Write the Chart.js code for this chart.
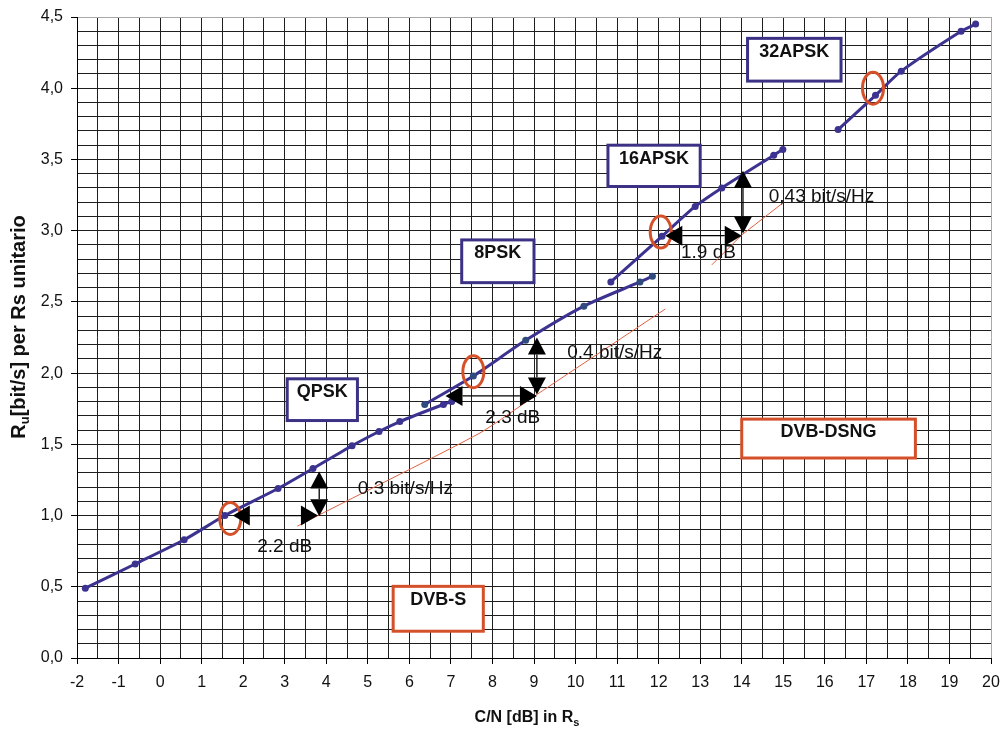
<!DOCTYPE html>
<html><head><meta charset="utf-8">
<script src="https://cdn.jsdelivr.net/npm/chart.js@4.4.1/dist/chart.umd.min.js"></script>
<style>html,body{margin:0;padding:0;background:#fff}#wrap{width:1000px;height:731px}</style>
</head><body><div id="wrap"><canvas id="c" width="1000" height="731"></canvas></div>
<script>
// ---- data ----
const qpskX = [-1.8, -0.6, 0.58, 1.56, 2.84, 3.68, 4.62, 5.27, 5.77, 6.82, 7.02];
const qpskY = [0.49, 0.66, 0.83, 1.0, 1.19, 1.33, 1.49, 1.59, 1.66, 1.78, 1.80];
const psk8X = [6.37, 7.54, 8.80, 10.2, 11.55, 11.85];
const psk8Y = [1.78, 1.98, 2.23, 2.47, 2.64, 2.68];
const apsk16X = [10.85, 12.08, 12.88, 13.52, 14.77, 14.99];
const apsk16Y = [2.64, 2.96, 3.17, 3.30, 3.53, 3.57];
const apsk32X = [16.32, 17.22, 17.84, 19.28, 19.63];
const apsk32Y = [3.71, 3.95, 4.12, 4.40, 4.45];
const refX1 = [3.3, 3.8, 7.7, 9.07, 12.16];
const refY1 = [0.925, 1.0, 1.58, 1.85, 2.45];
const refX2 = [13.28, 14.0, 14.97];
const refY2 = [2.76, 2.97, 3.19];

const xMin = -2, xMax = 20, xStep = 0.5;
const yMin = 0, yMax = 4.5, yStep = 0.1;
const xTitle = 'C/N [dB] in R', xTitleSub = 's';
const yTitleMain = 'R', yTitleSub = 'u', yTitleRest = '[bit/s] per Rs unitario';

// boxed labels: text, x1, x2, yTop, yBottom, text y, border colour
const boxLabels = [
  {t: 'QPSK',     x1: 3.06,  x2: 4.75,  y1: 1.96,  y2: 1.667, ty: 1.87,  c: '#3b3286'},
  {t: '8PSK',     x1: 7.26,  x2: 9.0,   y1: 2.935, y2: 2.635, ty: 2.84,  c: '#3b3286'},
  {t: '16APSK',   x1: 10.78, x2: 13.0,  y1: 3.60,  y2: 3.31,  ty: 3.50,  c: '#3b3286'},
  {t: '32APSK',   x1: 14.14, x2: 16.39, y1: 4.35,  y2: 4.05,  ty: 4.255, c: '#3b3286'},
  {t: 'DVB-DSNG', x1: 14.0,  x2: 18.18, y1: 1.677, y2: 1.404, ty: 1.586, c: '#d4502a'},
  {t: 'DVB-S',    x1: 5.61,  x2: 7.78,  y1: 0.503, y2: 0.188, ty: 0.405, c: '#d4502a'}
];
// plain notes: text, x, y, align
const notes = [
  {t: '2.2 dB',         x: 3.0,   y: 0.78,  a: 'center'},
  {t: '0.3 bit/s/Hz',   x: 4.76,  y: 1.19,  a: 'left'},
  {t: '2.3 dB',         x: 8.49,  y: 1.685, a: 'center'},
  {t: '0.4 bit/s/Hz',   x: 9.80,  y: 2.14,  a: 'left'},
  {t: '1.9 dB',         x: 13.2,  y: 2.846, a: 'center'},
  {t: '0,43 bit/s/Hz',  x: 14.65, y: 3.24,  a: 'left'}
];
// horizontal arrows: y, xLeft, xRight ; vertical arrows: x, yLow, yHigh
const hArrows = [[1.0, 1.75, 3.80], [1.84, 6.87, 9.07], [2.965, 12.16, 14.0]];
const vArrows = [[3.83, 0.995, 1.31], [9.07, 1.85, 2.25], [14.03, 2.98, 3.42]];
// ellipses: x, y (centre)
const ellipses = [[1.69, 0.98], [7.54, 2.01], [12.05, 2.99], [17.16, 4.0]];

const FONT = '"Liberation Sans", Arial, Helvetica, sans-serif';
const LINE = '#3c3290';
const pts = (xs, ys) => xs.map((x, i) => ({x, y: ys[i]}));
const isMult = (v, s) => Math.abs(v / s - Math.round(v / s)) < 1e-6;

const annot = {
  id: 'annot',
  afterDatasetsDraw(chart) {
    const ctx = chart.ctx, sx = chart.scales.x, sy = chart.scales.y;
    const X = v => sx.getPixelForValue(v), Y = v => sy.getPixelForValue(v);
    ctx.save();
    // ellipses
    ctx.strokeStyle = '#d5512a'; ctx.lineWidth = 3;
    ellipses.forEach(([ex, ey]) => {
      ctx.beginPath(); ctx.ellipse(X(ex), Y(ey), 10.5, 16, 0, 0, Math.PI * 2); ctx.stroke();
    });
    // arrows
    ctx.fillStyle = '#000'; ctx.strokeStyle = '#000'; ctx.lineWidth = 1.3;
    const L = 17, H = 10;
    hArrows.forEach(([y, x1, x2]) => {
      const py = Y(y), a = X(x1), b = X(x2);
      ctx.beginPath(); ctx.moveTo(a + L, py); ctx.lineTo(b - L, py); ctx.stroke();
      ctx.beginPath(); ctx.moveTo(a, py); ctx.lineTo(a + L, py - H); ctx.lineTo(a + L, py + H); ctx.closePath(); ctx.fill();
      ctx.beginPath(); ctx.moveTo(b, py); ctx.lineTo(b - L, py - H); ctx.lineTo(b - L, py + H); ctx.closePath(); ctx.fill();
    });
    vArrows.forEach(([x, y1, y2]) => {
      const px = X(x), lo = Y(y1), hi = Y(y2);
      ctx.beginPath(); ctx.moveTo(px, hi + L); ctx.lineTo(px, lo - L); ctx.stroke();
      ctx.beginPath(); ctx.moveTo(px, hi); ctx.lineTo(px - 9, hi + L); ctx.lineTo(px + 9, hi + L); ctx.closePath(); ctx.fill();
      ctx.beginPath(); ctx.moveTo(px, lo); ctx.lineTo(px - 9, lo - L); ctx.lineTo(px + 9, lo - L); ctx.closePath(); ctx.fill();
    });
    // boxes
    boxLabels.forEach(b => {
      const x1 = X(b.x1), x2 = X(b.x2), y1 = Y(b.y1), y2 = Y(b.y2);
      ctx.fillStyle = '#fff'; ctx.fillRect(x1, y1, x2 - x1, y2 - y1);
      ctx.strokeStyle = b.c; ctx.lineWidth = 3; ctx.strokeRect(x1, y1, x2 - x1, y2 - y1);
      ctx.fillStyle = '#111'; ctx.font = 'bold 18px ' + FONT;
      ctx.textAlign = 'center'; ctx.textBaseline = 'middle';
      ctx.fillText(b.t, (x1 + x2) / 2, Y(b.ty));
    });
    // notes
    ctx.fillStyle = '#111'; ctx.font = '19px ' + FONT; ctx.textBaseline = 'middle';
    notes.forEach(n => { ctx.textAlign = n.a; ctx.fillText(n.t, X(n.x), Y(n.y)); });
    ctx.restore();
  },
  afterDraw(chart) {
    const ctx = chart.ctx;
    ctx.save();
    ctx.fillStyle = '#111';
    // x title
    ctx.font = 'bold 16px ' + FONT; ctx.textBaseline = 'alphabetic';
    const w1 = ctx.measureText(xTitle).width;
    ctx.font = 'bold 11px ' + FONT;
    const w2 = ctx.measureText(xTitleSub).width;
    let sx0 = 527 - (w1 + w2) / 2, by = 722;
    ctx.textAlign = 'left';
    ctx.font = 'bold 16px ' + FONT; ctx.fillText(xTitle, sx0, by);
    ctx.font = 'bold 11px ' + FONT; ctx.fillText(xTitleSub, sx0 + w1, by + 4);
    // y title (rotated)
    ctx.translate(25, 327); ctx.rotate(-Math.PI / 2);
    ctx.font = 'bold 20px ' + FONT;
    const a1 = ctx.measureText(yTitleMain).width, a3 = ctx.measureText(yTitleRest).width;
    ctx.font = 'bold 13px ' + FONT;
    const a2 = ctx.measureText(yTitleSub).width;
    let s = -(a1 + a2 + a3) / 2;
    ctx.font = 'bold 20px ' + FONT; ctx.fillText(yTitleMain, s, 0);
    ctx.font = 'bold 13px ' + FONT; ctx.fillText(yTitleSub, s + a1, 4);
    ctx.font = 'bold 20px ' + FONT; ctx.fillText(yTitleRest, s + a1 + a2, 0);
    ctx.restore();
  }
};

const ds = (xs, ys, opts) => Object.assign({
  data: pts(xs, ys), showLine: true, borderColor: LINE, borderWidth: 3,
  pointRadius: 3.5, pointBackgroundColor: LINE, pointBorderColor: LINE, pointBorderWidth: 0,
  tension: 0.25, fill: false
}, opts);

new Chart(document.getElementById('c'), {
  type: 'scatter',
  data: {
    datasets: [
      ds(refX1, refY1, {borderColor: '#e2603e', borderWidth: 1, pointRadius: 0, tension: 0.2}),
      ds(refX2, refY2, {borderColor: '#e2603e', borderWidth: 1, pointRadius: 0, tension: 0}),
      ds(qpskX, qpskY, {}),
      ds(psk8X, psk8Y, {pointBackgroundColor: '#2f4a7c', pointBorderColor: '#2f4a7c'}),
      ds(apsk16X, apsk16Y, {}),
      ds(apsk32X, apsk32Y, {})
    ]
  },
  options: {
    responsive: false, animation: false, devicePixelRatio: 1,
    layout: {padding: {left: 0, top: 17, right: 9, bottom: 0}},
    plugins: {legend: {display: false}, tooltip: {enabled: false}},
    scales: {
      x: {
        type: 'linear', min: xMin, max: xMax,
        afterFit: s => { s.height = 73; s.paddingLeft = 0; s.paddingRight = 0; },
        border: {display: true, color: '#000', width: 1},
        grid: {
          color: c => (c.tick && c.tick.value === xMax) ? '#a8a8a8' : '#1e1e1e',
          lineWidth: 1, tickLength: 6,
          tickColor: c => (c.tick && isMult(c.tick.value, 1)) ? '#000' : 'rgba(0,0,0,0)'
        },
        ticks: {
          stepSize: xStep, autoSkip: false, maxRotation: 0, padding: 9,
          color: '#111', font: {family: FONT, size: 16},
          callback: v => isMult(v, 1) ? String(Math.round(v)) : ''
        }
      },
      y: {
        type: 'linear', min: yMin, max: yMax,
        afterFit: s => { s.width = 77; s.paddingTop = 0; s.paddingBottom = 0; },
        border: {display: true, color: '#000', width: 1},
        grid: {
          color: c => (c.tick && Math.abs(c.tick.value - yMax) < 1e-6) ? '#a8a8a8' : '#1e1e1e',
          lineWidth: 1, tickLength: 6,
          tickColor: c => (c.tick && isMult(c.tick.value, 0.5)) ? '#000' : 'rgba(0,0,0,0)'
        },
        ticks: {
          stepSize: yStep, autoSkip: false, padding: 8,
          color: '#111', font: {family: FONT, size: 16},
          callback: v => isMult(v, 0.5) ? v.toFixed(1).replace('.', ',') : ''
        }
      }
    }
  },
  plugins: [annot]
});
</script>
</body></html>
